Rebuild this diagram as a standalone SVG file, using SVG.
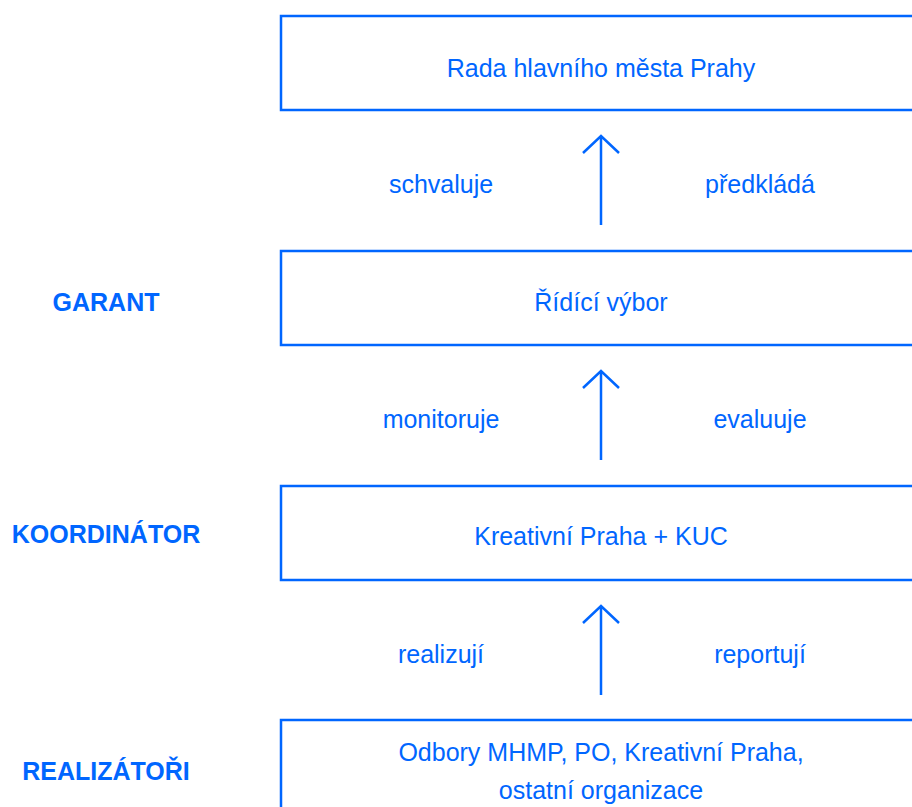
<svg xmlns="http://www.w3.org/2000/svg" width="912" height="807" viewBox="0 0 912 807">
<style>
.box{fill:#fff;stroke:#0066ff;stroke-width:2.5}
.t{font-family:"Liberation Sans",Arial,sans-serif;font-size:25px;fill:#0066ff;text-anchor:middle}
.lab{font-family:"Liberation Sans",Arial,sans-serif;font-size:25px;font-weight:bold;fill:#0066ff;text-anchor:middle}
.arr{fill:none;stroke:#0066ff;stroke-width:2.5}
</style>
<rect width="912" height="807" fill="#fff"/>
<g id="level-labels">
<text class="lab" x="106" y="311">GARANT</text>
<text class="lab" x="106" y="543">KOORDINÁTOR</text>
<text class="lab" x="106" y="780">REALIZÁTOŘI</text>
</g>
<g id="node-rada">
<rect class="box" x="281" y="16" width="640" height="94"/>
<text class="t" x="601" y="77">Rada hlavního města Prahy</text>
</g>
<g id="node-ridici">
<rect class="box" x="281" y="251" width="640" height="94"/>
<text class="t" x="601" y="311">Řídící výbor</text>
</g>
<g id="node-kreativni">
<rect class="box" x="281" y="486" width="640" height="94"/>
<text class="t" x="601" y="545">Kreativní Praha + KUC</text>
</g>
<g id="node-realizatori">
<rect class="box" x="281" y="720" width="640" height="120"/>
<text class="t" x="601" y="761">Odbory MHMP, PO, Kreativní Praha,</text>
<text class="t" x="601" y="799">ostatní organizace</text>
</g>
<g id="connectors">
<path class="arr" d="M601 225V136M583 153L601 136L619 153"/>
<path class="arr" d="M601 460V371M583 388L601 371L619 388"/>
<path class="arr" d="M601 695V606M583 623L601 606L619 623"/>
<text class="t" x="441" y="193">schvaluje</text>
<text class="t" x="760" y="193">předkládá</text>
<text class="t" x="441" y="428">monitoruje</text>
<text class="t" x="760" y="428">evaluuje</text>
<text class="t" x="441" y="663">realizují</text>
<text class="t" x="760" y="663">reportují</text>
</g>
</svg>
